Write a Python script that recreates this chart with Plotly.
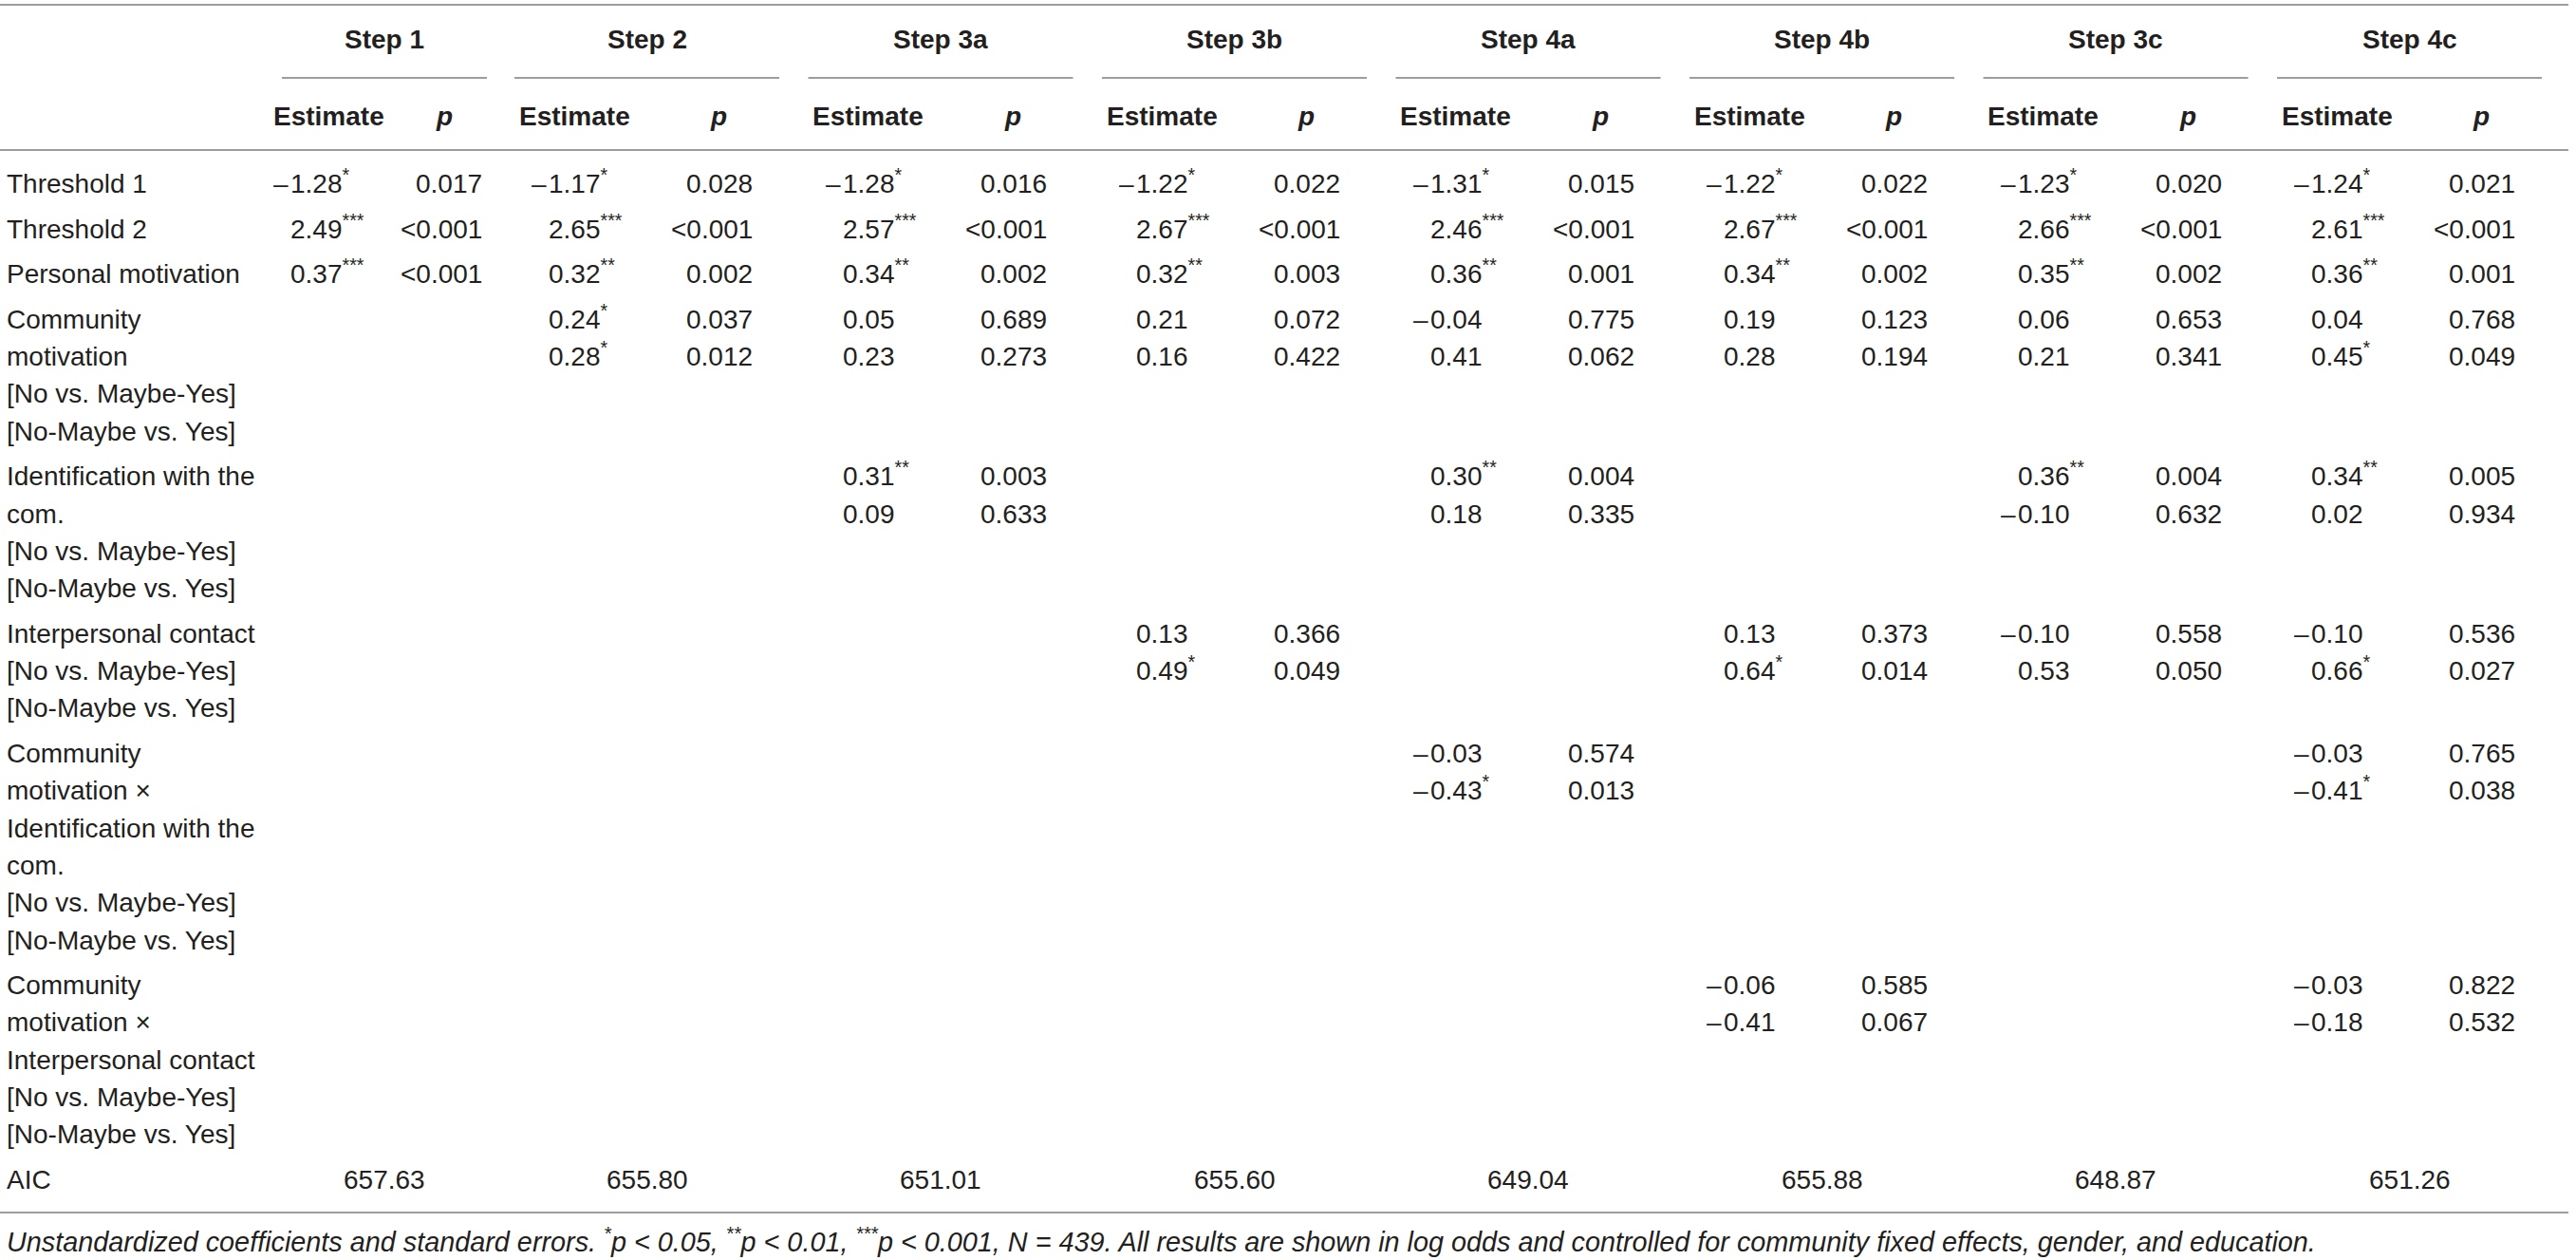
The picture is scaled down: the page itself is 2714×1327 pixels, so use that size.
import plotly.graph_objects as go

# ---- table data -------------------------------------------------------------
steps = ["Step 1", "Step 2", "Step 3a", "Step 3b", "Step 4a", "Step 4b", "Step 3c", "Step 4c"]

threshold1_est = [-1.28, -1.17, -1.28, -1.22, -1.31, -1.22, -1.23, -1.24]
threshold1_p = ["0.017", "0.028", "0.016", "0.022", "0.015", "0.022", "0.020", "0.021"]

threshold2_est = [2.49, 2.65, 2.57, 2.67, 2.46, 2.67, 2.66, 2.61]
threshold2_p = ["<0.001"] * 8

personal_est = [0.37, 0.32, 0.34, 0.32, 0.36, 0.34, 0.35, 0.36]
personal_p = ["<0.001", "0.002", "0.002", "0.003", "0.001", "0.002", "0.002", "0.001"]

# first line: [No vs. Maybe-Yes], second line: [No-Maybe vs. Yes]
community_est_1 = [None, 0.24, 0.05, 0.21, -0.04, 0.19, 0.06, 0.04]
community_p_1 = [None, "0.037", "0.689", "0.072", "0.775", "0.123", "0.653", "0.768"]
community_est_2 = [None, 0.28, 0.23, 0.16, 0.41, 0.28, 0.21, 0.45]
community_p_2 = [None, "0.012", "0.273", "0.422", "0.062", "0.194", "0.341", "0.049"]

ident_est_1 = [None, None, 0.31, None, 0.30, None, 0.36, 0.34]
ident_p_1 = [None, None, "0.003", None, "0.004", None, "0.004", "0.005"]
ident_est_2 = [None, None, 0.09, None, 0.18, None, -0.10, 0.02]
ident_p_2 = [None, None, "0.633", None, "0.335", None, "0.632", "0.934"]

contact_est_1 = [None, None, None, 0.13, None, 0.13, -0.10, -0.10]
contact_p_1 = [None, None, None, "0.366", None, "0.373", "0.558", "0.536"]
contact_est_2 = [None, None, None, 0.49, None, 0.64, 0.53, 0.66]
contact_p_2 = [None, None, None, "0.049", None, "0.014", "0.050", "0.027"]

comm_x_ident_est_1 = [None, None, None, None, -0.03, None, None, -0.03]
comm_x_ident_p_1 = [None, None, None, None, "0.574", None, None, "0.765"]
comm_x_ident_est_2 = [None, None, None, None, -0.43, None, None, -0.41]
comm_x_ident_p_2 = [None, None, None, None, "0.013", None, None, "0.038"]

comm_x_contact_est_1 = [None, None, None, None, None, -0.06, None, -0.03]
comm_x_contact_p_1 = [None, None, None, None, None, "0.585", None, "0.822"]
comm_x_contact_est_2 = [None, None, None, None, None, -0.41, None, -0.18]
comm_x_contact_p_2 = [None, None, None, None, None, "0.067", None, "0.532"]

aic = [657.63, 655.80, 651.01, 655.60, 649.04, 655.88, 648.87, 651.26]

footnote = ("Unstandardized coefficients and standard errors. <sup>*</sup>p < 0.05, "
            "<sup>**</sup>p < 0.01, <sup>***</sup>p < 0.001, N = 439. "
            "All results are shown in log odds and controlled for community fixed effects, "
            "gender, and education.")

rows = [
    (["Threshold 1"], [(threshold1_est, threshold1_p)]),
    (["Threshold 2"], [(threshold2_est, threshold2_p)]),
    (["Personal motivation"], [(personal_est, personal_p)]),
    (["Community", "motivation", "[No vs. Maybe-Yes]", "[No-Maybe vs. Yes]"],
     [(community_est_1, community_p_1), (community_est_2, community_p_2)]),
    (["Identification with the", "com.", "[No vs. Maybe-Yes]", "[No-Maybe vs. Yes]"],
     [(ident_est_1, ident_p_1), (ident_est_2, ident_p_2)]),
    (["Interpersonal contact", "[No vs. Maybe-Yes]", "[No-Maybe vs. Yes]"],
     [(contact_est_1, contact_p_1), (contact_est_2, contact_p_2)]),
    (["Community", "motivation \u00d7", "Identification with the", "com.",
      "[No vs. Maybe-Yes]", "[No-Maybe vs. Yes]"],
     [(comm_x_ident_est_1, comm_x_ident_p_1), (comm_x_ident_est_2, comm_x_ident_p_2)]),
    (["Community", "motivation \u00d7", "Interpersonal contact",
      "[No vs. Maybe-Yes]", "[No-Maybe vs. Yes]"],
     [(comm_x_contact_est_1, comm_x_contact_p_1), (comm_x_contact_est_2, comm_x_contact_p_2)]),
]

# ---- layout -----------------------------------------------------------------
W, H = 2714, 1327
FONT = "Liberation Sans, Arial, sans-serif"
TXT = "#231f20"
RULE = "#9d9d9d"
FS = 28

LABEL_X = 6
starts = [297] + [542 + 309.5 * k for k in range(7)]
ends = [513] + [s + 279 for s in starts[1:]]
digit_x = [305] + [s + 35 for s in starts[1:]]
p_right = [509] + [s + 252 for s in starts[1:]]
est_head = [346] + [s + 63 for s in starts[1:]]
p_head = [468] + [s + 215 for s in starts[1:]]

LINE = 39.3
GAP = 47.6
BASE = 16  # centre of caps -> bottom of text box


def stars(p):
    v = 0.0 if p.startswith("<") else float(p)
    if v < 0.001:
        return "***"
    if v < 0.01:
        return "**"
    if v < 0.05:
        return "*"
    return ""


annotations = []


def text(x, y, s, anchor="left", size=FS):
    annotations.append(dict(
        x=x, y=y + BASE * size / FS, xref="x", yref="y", text=s, showarrow=False,
        xanchor=anchor, yanchor="bottom", align=anchor,
        font=dict(family=FONT, size=size, color=TXT), borderpad=0,
    ))


# header
for k, name in enumerate(steps):
    text((starts[k] + ends[k]) / 2, 42, f"<b>{name}</b>", "center")
    text(est_head[k], 123, "<b>Estimate</b>", "center")
    text(p_head[k], 123, "<b><i>p</i></b>", "center")

# body
y = 194
for labels, values in rows:
    for i, lab in enumerate(labels):
        text(LABEL_X, y + i * LINE, lab)
    for i, (est, pv) in enumerate(values):
        yy = y + i * LINE
        for k in range(len(steps)):
            if est[k] is None:
                continue
            s = stars(pv[k])
            num = f"{abs(est[k]):.2f}" + (f"<sup>{s}</sup>" if s else "")
            text(digit_x[k], yy, num)
            if est[k] < 0:
                text(digit_x[k], yy, "\u2013", "right")
            text(p_right[k], yy, pv[k], "right")
    y = y + (len(labels) - 1) * LINE + GAP

text(LABEL_X, y, "AIC")
for k, v in enumerate(aic):
    text((starts[k] + ends[k]) / 2, y, f"{v:.2f}", "center")

text(LABEL_X, 1309, f"<i>{footnote}</i>", size=28.8)

shapes = [
    dict(type="line", x0=0, x1=2706, y0=5, y1=5),
    dict(type="line", x0=0, x1=2706, y0=158, y1=158),
    dict(type="line", x0=0, x1=2706, y0=1277, y1=1277),
]
for k in range(len(steps)):
    shapes.append(dict(type="line", x0=starts[k], x1=ends[k], y0=82, y1=82))
for sh in shapes:
    sh.update(xref="x", yref="y", line=dict(color=RULE, width=2))

fig = go.Figure()
fig.update_layout(
    width=W, height=H, autosize=False,
    margin=dict(l=0, r=0, t=0, b=0, pad=0),
    paper_bgcolor="#fff", plot_bgcolor="#fff",
    xaxis=dict(range=[0, W], visible=False, fixedrange=True),
    yaxis=dict(range=[H, 0], visible=False, fixedrange=True),
    showlegend=False,
    annotations=annotations,
    shapes=shapes,
)
fig.write_html("out.html", config={"displayModeBar": False},
               post_script="document.body.style.margin='0';")
